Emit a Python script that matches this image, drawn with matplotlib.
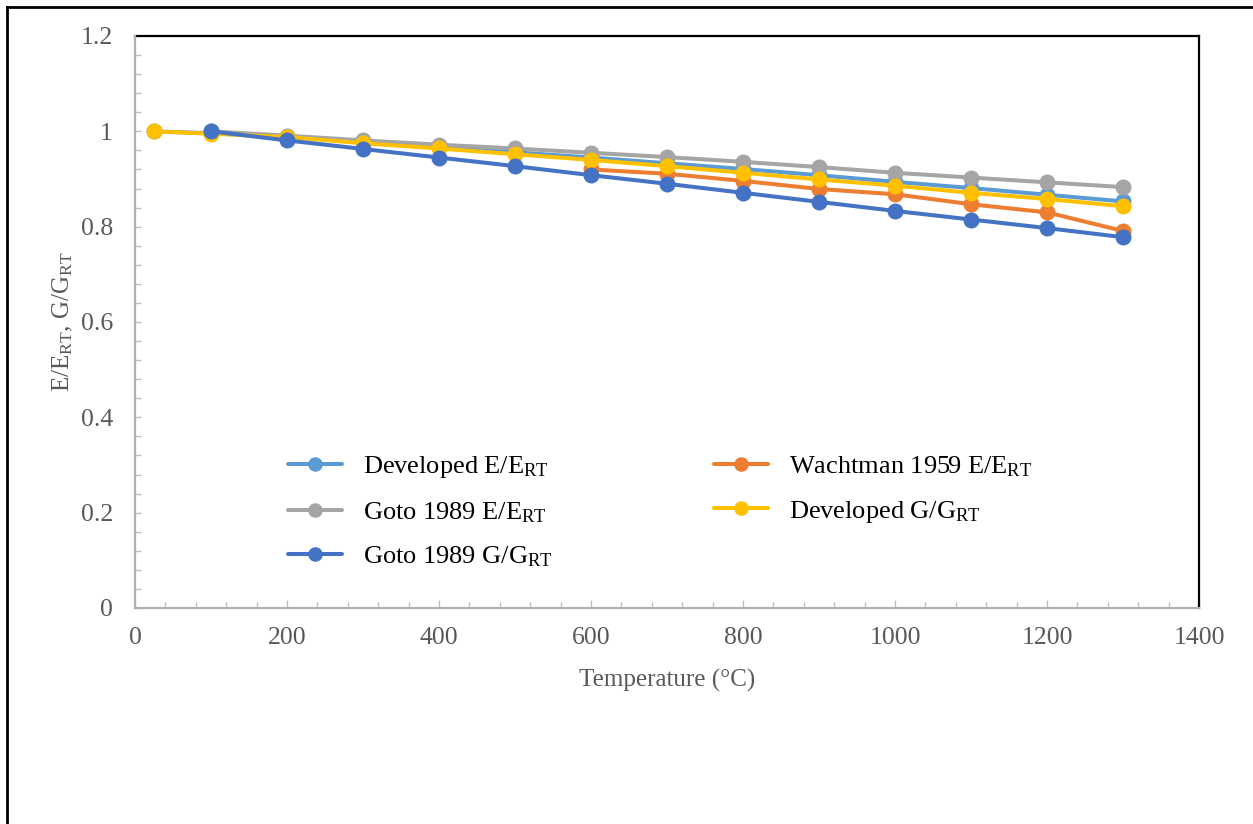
import matplotlib
matplotlib.use("Agg")
import matplotlib.pyplot as plt
from matplotlib.lines import Line2D
from matplotlib.ticker import MultipleLocator, FuncFormatter

# temperatures (deg C)
temp_developed = [25, 100, 200, 300, 400, 500, 600, 700, 800, 900, 1000, 1100, 1200, 1300]
temp_goto = [100, 200, 300, 400, 500, 600, 700, 800, 900, 1000, 1100, 1200, 1300]
temp_wachtman = [600, 700, 800, 900, 1000, 1100, 1200, 1300]

# normalised moduli
developed_e = [1.0, 0.996, 0.989, 0.978, 0.967, 0.956, 0.945, 0.933, 0.921, 0.908, 0.894, 0.881, 0.867, 0.853]
developed_g = [1.0, 0.995, 0.988, 0.975, 0.964, 0.952, 0.940, 0.927, 0.913, 0.899, 0.886, 0.871, 0.858, 0.843]
goto_e = [1.0, 0.991, 0.981, 0.972, 0.964, 0.955, 0.946, 0.936, 0.925, 0.913, 0.903, 0.893, 0.883]
goto_g = [1.0, 0.981, 0.963, 0.945, 0.927, 0.908, 0.890, 0.871, 0.852, 0.833, 0.815, 0.797, 0.778]
wachtman_e = [0.920, 0.911, 0.896, 0.879, 0.868, 0.847, 0.830, 0.791]

W = 1253.0
H = 824.0

def fx(px):
	return px / W
#end_def

def fy(py):
	return 1.0 - py / H
#end_def

def main():

	plt.rcParams["font.family"] = ["Liberation Serif", "DejaVu Serif"]
	plt.rcParams["mathtext.fontset"] = "custom"
	plt.rcParams["mathtext.rm"] = "Liberation Serif"
	plt.rcParams["mathtext.it"] = "Liberation Serif:italic"
	plt.rcParams["mathtext.bf"] = "Liberation Serif:bold"

	fig = plt.figure(figsize = (12.53, 8.24), dpi = 100)
	ax = fig.add_axes([fx(135), fy(608), fx(1199) - fx(135), fy(36) - fy(608)])

	style = dict(lw = 2.9, marker = "o", markersize = 10.5, solid_capstyle = "round")

	h_dev_e, = ax.plot(temp_developed, developed_e, color = "#5B9BD5", zorder = 2, label = r"Developed E/E$_{\mathrm{RT}}$", **style)
	h_wach, = ax.plot(temp_wachtman, wachtman_e, color = "#ED7D31", zorder = 3, label = r"Wachtman 1959 E/E$_{\mathrm{RT}}$", **style)
	h_goto_e, = ax.plot(temp_goto, goto_e, color = "#A5A5A5", zorder = 4, label = r"Goto 1989 E/E$_{\mathrm{RT}}$", **style)
	h_dev_g, = ax.plot(temp_developed, developed_g, color = "#FFC000", zorder = 5, label = r"Developed G/G$_{\mathrm{RT}}$", **style)
	h_goto_g, = ax.plot(temp_goto, goto_g, color = "#4472C4", zorder = 6, label = r"Goto 1989 G/G$_{\mathrm{RT}}$", **style)

	ax.set_xlim(0, 1400)
	ax.set_ylim(0, 1.2)

	ax.xaxis.set_major_locator(MultipleLocator(200))
	ax.xaxis.set_minor_locator(MultipleLocator(40))
	ax.yaxis.set_major_locator(MultipleLocator(0.2))
	ax.yaxis.set_minor_locator(MultipleLocator(0.04))
	ax.yaxis.set_major_formatter(FuncFormatter(lambda v, p: "%g" % round(v, 2)))

	ax.tick_params(axis = "x", which = "major", direction = "in", length = 6, width = 1, color = "#BFBFBF", pad = 14, labelsize = 18.5, labelcolor = "#595959")
	ax.tick_params(axis = "x", which = "minor", direction = "in", length = 4, width = 1, color = "#BFBFBF")
	ax.tick_params(axis = "y", which = "major", direction = "in", length = 4, width = 1, color = "#BFBFBF", pad = 16, labelsize = 18.5, labelcolor = "#595959")
	ax.tick_params(axis = "y", which = "minor", direction = "in", length = 4, width = 1, color = "#BFBFBF")

	ax.spines["top"].set_color("black")
	ax.spines["right"].set_color("black")
	ax.spines["top"].set_linewidth(1.6)
	ax.spines["right"].set_linewidth(1.6)
	ax.spines["left"].set_color("#B0B0B0")
	ax.spines["bottom"].set_color("#B0B0B0")
	ax.spines["left"].set_linewidth(1.6)
	ax.spines["bottom"].set_linewidth(1.6)
	ax.spines["left"].set_zorder(10)
	ax.spines["bottom"].set_zorder(10)

	fig.text(fx(667), fy(680), "Temperature (°C)", ha = "center", va = "center", fontsize = 18, color = "#595959")
	fig.text(fx(63), fy(322), r"E/E$_{\mathrm{RT}}$, G/G$_{\mathrm{RT}}$", ha = "center", va = "center", rotation = 90, fontsize = 18, color = "#595959")

	# column-first fill: left column three entries, right column two
	handles = [h_dev_e, h_goto_e, h_goto_g, h_wach, h_dev_g]
	leg = ax.legend(handles = handles, labels = [h.get_label() for h in handles], ncol = 2, frameon = False,
		loc = "upper left", bbox_to_anchor = (fx(288), fy(454)), bbox_transform = fig.transFigure,
		fontsize = 19, handlelength = 2.05, handletextpad = 0.8, columnspacing = 6.1,
		labelspacing = 0.76, borderpad = 0, borderaxespad = 0, markerscale = 0.9)
	for t in leg.get_texts():
		t.set_color("black")
	#end_for

	# outer frame (only left and top edges are visible in the crop)
	fig.add_artist(Line2D([fx(7), fx(7)], [0, fy(7)], transform = fig.transFigure, color = "black", lw = 2))
	fig.add_artist(Line2D([fx(7), 1], [fy(7), fy(7)], transform = fig.transFigure, color = "black", lw = 2))

	fig.savefig("out.png", dpi = 100)

#end_def

main()
